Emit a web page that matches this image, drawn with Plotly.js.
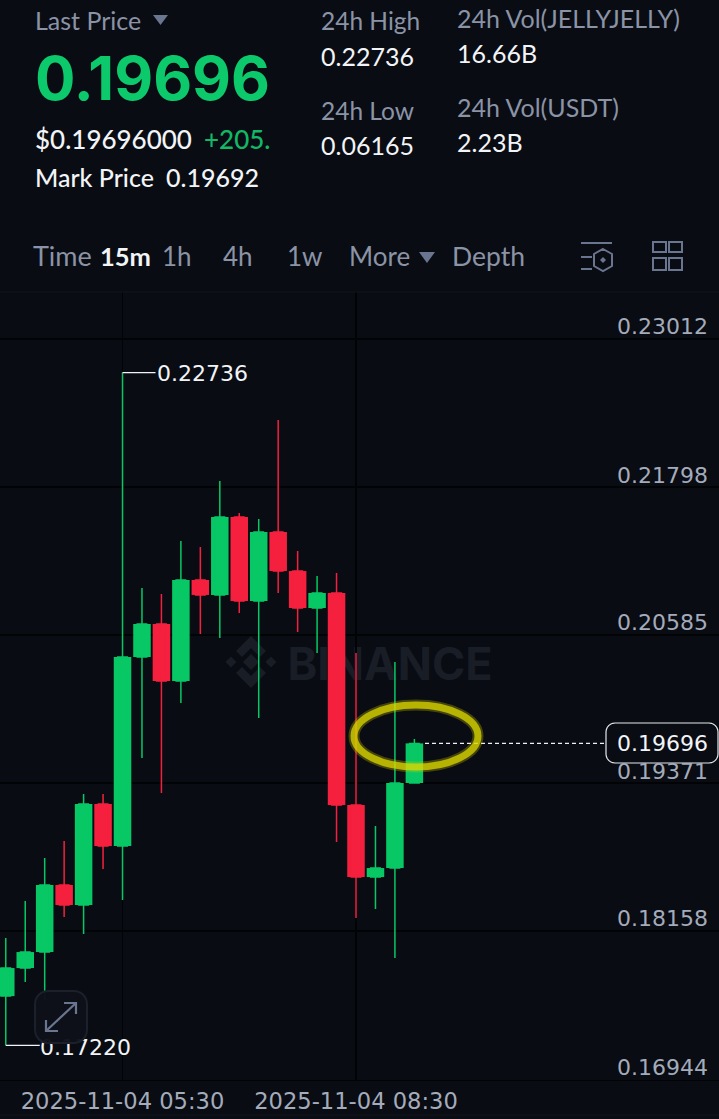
<!DOCTYPE html>
<html><head><meta charset="utf-8">
<script src="https://cdn.plot.ly/plotly-3.0.1.min.js"></script>
<style>html,body{margin:0;padding:0;background:#090c13;overflow:hidden}#c{width:719px;height:1119px}</style>
</head><body><div id="c"></div>
<script>
const times=["2025-11-04 04:00","2025-11-04 04:15","2025-11-04 04:30","2025-11-04 04:45","2025-11-04 05:00","2025-11-04 05:15","2025-11-04 05:30","2025-11-04 05:45","2025-11-04 06:00","2025-11-04 06:15","2025-11-04 06:30","2025-11-04 06:45","2025-11-04 07:00","2025-11-04 07:15","2025-11-04 07:30","2025-11-04 07:45","2025-11-04 08:00","2025-11-04 08:15","2025-11-04 08:30","2025-11-04 08:45","2025-11-04 09:00","2025-11-04 09:15"];
const opens =[.17624,.17854,.17985,.18535,.18371,.19199,.18854,.20404,.20675,.20207,.21036,.20913,.21552,.20863,.21429,.21109,.20806,.20929,.19191,.18600,.18674,.19371];
const highs =[.18100,.18403,.18756,.18895,.19281,.19281,.22736,.20970,.20921,.21355,.21306,.21847,.21585,.21536,.22347,.21273,.21068,.21093,.20437,.19018,.20363,.19732];
const lows  =[.17220,.17739,.17592,.18272,.18133,.18666,.18412,.19576,.19289,.20027,.20593,.20560,.20765,.19904,.20929,.20609,.20437,.18887,.18264,.18338,.17936,.19371];
const closes=[.17854,.17985,.18535,.18371,.19199,.18854,.20404,.20675,.20207,.21036,.20913,.21552,.20863,.21429,.21109,.20806,.20929,.19191,.18600,.18674,.19371,.19696];
const priceTicks=[0.16944,0.18158,0.19371,0.20585,0.21798,0.23012];
const priceLabels=["0.16944","0.18158","0.19371","0.20585","0.21798","0.23012"];
const timeTicks=["2025-11-04 05:30","2025-11-04 08:30"];
const timeLabels=["2025-11-04 05:30","2025-11-04 08:30"];
const lastPrice=0.19696, highPoint=["2025-11-04 05:30",0.22736], lowPoint=["2025-11-04 04:00",0.17220];

const W=719,H=1119,T=292,B=1080;
const fx=p=>p/W, fy=p=>(B-p)/(B-T);
const F='Lato, sans-serif', N='"DejaVu Sans", sans-serif', G='#8b93a6', WH='#f2f4f7', UP='#07c865', DN='#f5203e', BG='#090c13', AX='#a4abba';
const txt=(text,x,y,size,color,weight,family)=>({text,xref:'paper',yref:'paper',x:fx(x-3),y:fy(y-1),xanchor:'left',yanchor:'middle',showarrow:false,
  font:{family:family||F,size,color,weight:weight||400}});
const annotations=[
 txt('Last Price',36,21,25,G),
 txt('0.19696',36,79,60,'#0cc96c',700,'Inter, sans-serif'),
 txt('$0.19696000',36,140,26,WH,500),
 txt('+205.',205,140,26,'#12b866',500),
 txt('Mark Price',36,178,25,WH,500),
 txt('0.19692',167,178,25,WH,500),
 txt('24h High',322,21,24.5,G),
 txt('0.22736',322,57,25,WH),
 txt('24h Low',322,111,24.5,G),
 txt('0.06165',322,146,25,WH),
 txt('24h Vol(JELLYJELLY)',458,19,25,G),
 txt('16.66B',458,54,25,WH),
 txt('24h Vol(USDT)',458,108,25,G),
 txt('2.23B',458,143,25,WH),
 txt('Time',34,257,27,G),
 txt('15m',101,257,25.5,WH,700),
 txt('1h',163,257,26,G),
 txt('4h',224,257,26,G),
 txt('1w',288,257,26,G),
 txt('More',350,257,26,G),
 txt('Depth',453,257,26.5,G),
 {text:'0.22736',xref:'x',yref:'y',x:highPoint[0],y:highPoint[1],xshift:32,yshift:-1,xanchor:'left',yanchor:'middle',showarrow:false,font:{family:N,size:22,color:WH}},
 ...priceTicks.map((v,i)=>({text:priceLabels[i],xref:'paper',yref:'y',x:fx(710),y:v,yshift:12,xanchor:'right',yanchor:'middle',showarrow:false,font:{family:N,size:22,color:AX}})),
 {text:lastPrice.toFixed(5),xref:'paper',yref:'y',x:fx(710),y:lastPrice,xanchor:'right',yanchor:'middle',showarrow:false,font:{family:N,size:22,color:WH}}
];
const psh=(path,fill,line,w,layer)=>({type:'path',xref:'paper',yref:'paper',path:path.replace(/(-?\d+(\.\d+)?),(-?\d+(\.\d+)?)/g,(m,a,_,b)=>fx(+a)+','+fy(+b)),fillcolor:fill||'rgba(0,0,0,0)',line:{color:line||'rgba(0,0,0,0)',width:w||0},layer:layer||'above'});
const rectP=(x0,y0,x1,y1)=>`M${x0},${y0} L${x1},${y0} L${x1},${y1} L${x0},${y1} Z`;
const round=(x0,y0,x1,y1,r)=>{const n=6,pts=[];const arc=(cx,cy,a0)=>{for(let i=0;i<=n;i++){const a=a0+i/n*Math.PI/2;pts.push((cx+r*Math.cos(a)).toFixed(2)+','+(cy+r*Math.sin(a)).toFixed(2));}};
  arc(x1-r,y0+r,-Math.PI/2);arc(x1-r,y1-r,0);arc(x0+r,y1-r,Math.PI/2);arc(x0+r,y0+r,Math.PI);return 'M'+pts.join(' L')+' Z';};
const diamond=(cx,cy,r)=>`M${cx},${cy-r} L${cx+r},${cy} L${cx},${cy+r} L${cx-r},${cy} Z`;
const ICON='#6a7590', WM='#191d26';
const shapes=[
 psh(diamond(251,662,8),WM,null,0,'below'),psh(diamond(231,662,5.5),WM,null,0,'below'),psh(diamond(271,662,5.5),WM,null,0,'below'),
 psh('M251,636 L266,651 L260,657 L251,648 L242,657 L236,651 Z',WM,null,0,'below'),
 psh('M251,688 L266,673 L260,667 L251,676 L242,667 L236,673 Z',WM,null,0,'below'),
 {type:'rect',xref:'paper',yref:'paper',x0:fx(280),x1:fx(500),y0:fy(680),y1:fy(644),layer:'below',line:{width:0},fillcolor:'rgba(0,0,0,0)',
  label:{text:'<b>BINANCE</b>',textposition:'middle center',font:{family:'Inter, sans-serif',size:45,color:WM}}},
 psh('M153,15 L168,15 L160.5,25 Z','#6a7590'),
 psh('M419,252 L435,252 L427,263 Z','#6a7590'),
 psh('M581,243 L612,243',null,ICON,2),psh('M581,257 L592,257',null,ICON,2),psh('M581,269 L592,269',null,ICON,2),
 psh('M603,249 L612,254 L612,266 L603,271 L594,266 L594,254 Z',null,ICON,2),psh(diamond(603,260,3),ICON),
 psh(rectP(653,242,666,252),null,ICON,2),psh(rectP(669,242,682,252),null,ICON,2),psh(rectP(653,258,666,270),null,ICON,2),psh(rectP(669,258,682,270),null,ICON,2),
 psh('M0,292 L719,292',null,'#12151d',1),psh('M0,1115 L719,1115',null,'#12151d',1),
 {type:'line',xref:'x',yref:'y',xsizemode:'pixel',xanchor:highPoint[0],x0:0,x1:33,y0:highPoint[1],y1:highPoint[1],line:{color:WH,width:1.2},layer:'above'},
 {type:'line',xref:'x',yref:'y',xsizemode:'pixel',xanchor:lowPoint[0],x0:0,x1:34,y0:lowPoint[1],y1:lowPoint[1],line:{color:WH,width:1.2},layer:'above'},
 {type:'rect',xref:'paper',yref:'paper',x0:fx(37),x1:fx(136),y0:fy(1029),y1:fy(1061),line:{width:0},fillcolor:'rgba(0,0,0,0)',layer:'above',
  label:{text:'0.17220',textposition:'middle left',padding:0,font:{family:N,size:22,color:WH}}},
 psh(round(35,991,87,1043,13),'rgba(13,17,25,0.97)','#1b202b',2),
 psh('M46,1031 L76,1003',null,ICON,2.2),
 psh('M64,1003 L76,1003 L76,1014',null,ICON,2.2),psh('M46,1020 L46,1031 L58,1031',null,ICON,2.2),
 {type:'line',xref:'paper',yref:'y',x0:fx(425),x1:fx(606),y0:lastPrice,y1:lastPrice,line:{color:'#eef0f3',width:1.2,dash:'4px,3px'},layer:'above'},
 psh(round(606,723,718,763,9),BG,'#e6e8ec',1.2),
 {type:'circle',xref:'paper',yref:'paper',x0:fx(354),x1:fx(478),y0:fy(705),y1:fy(767),line:{color:'rgba(205,200,0,0.30)',width:11},fillcolor:'rgba(0,0,0,0)',layer:'above'},
 {type:'circle',xref:'paper',yref:'paper',x0:fx(354),x1:fx(478),y0:fy(705),y1:fy(767),line:{color:'rgba(222,216,0,0.75)',width:7},fillcolor:'rgba(0,0,0,0)',layer:'above'}
];
const bodies={type:'bar',x:times,base:opens.map((o,i)=>Math.min(o,closes[i])),y:opens.map((o,i)=>Math.abs(closes[i]-o)),width:times.map(()=>810000),
  marker:{color:opens.map((o,i)=>closes[i]>=o?UP:DN),line:{width:0}},hoverinfo:'skip'};
const wicks={type:'candlestick',x:times,open:opens,high:highs,low:lows,close:closes,whiskerwidth:0,
  increasing:{line:{color:UP,width:1.5},fillcolor:UP},decreasing:{line:{color:DN,width:1.5},fillcolor:DN},hoverinfo:'skip'};
const layout={width:W,height:H,autosize:false,showlegend:false,paper_bgcolor:BG,plot_bgcolor:BG,barmode:'overlay',
  margin:{l:0,r:0,t:T,b:H-B,pad:0},
  xaxis:{type:'date',range:['2025-11-04 03:55:33','2025-11-04 13:09:50'],rangeslider:{visible:false},tickmode:'array',tickvals:timeTicks,ticktext:timeLabels,
    showgrid:true,gridcolor:'#020305',gridwidth:1.2,zeroline:false,showline:true,linecolor:'#020305',ticks:'',ticklabelstandoff:1,
    tickfont:{family:N,size:22.6,color:AX}},
  yaxis:{side:'right',range:[0.16936,0.23397],tickmode:'array',tickvals:priceTicks,ticktext:priceLabels,showgrid:true,gridcolor:'#020305',gridwidth:1.2,zeroline:false,
    ticks:'',showticklabels:false},
  annotations,shapes};
Plotly.newPlot('c',[bodies,wicks],layout,{displayModeBar:false,staticPlot:true});
</script></body></html>
